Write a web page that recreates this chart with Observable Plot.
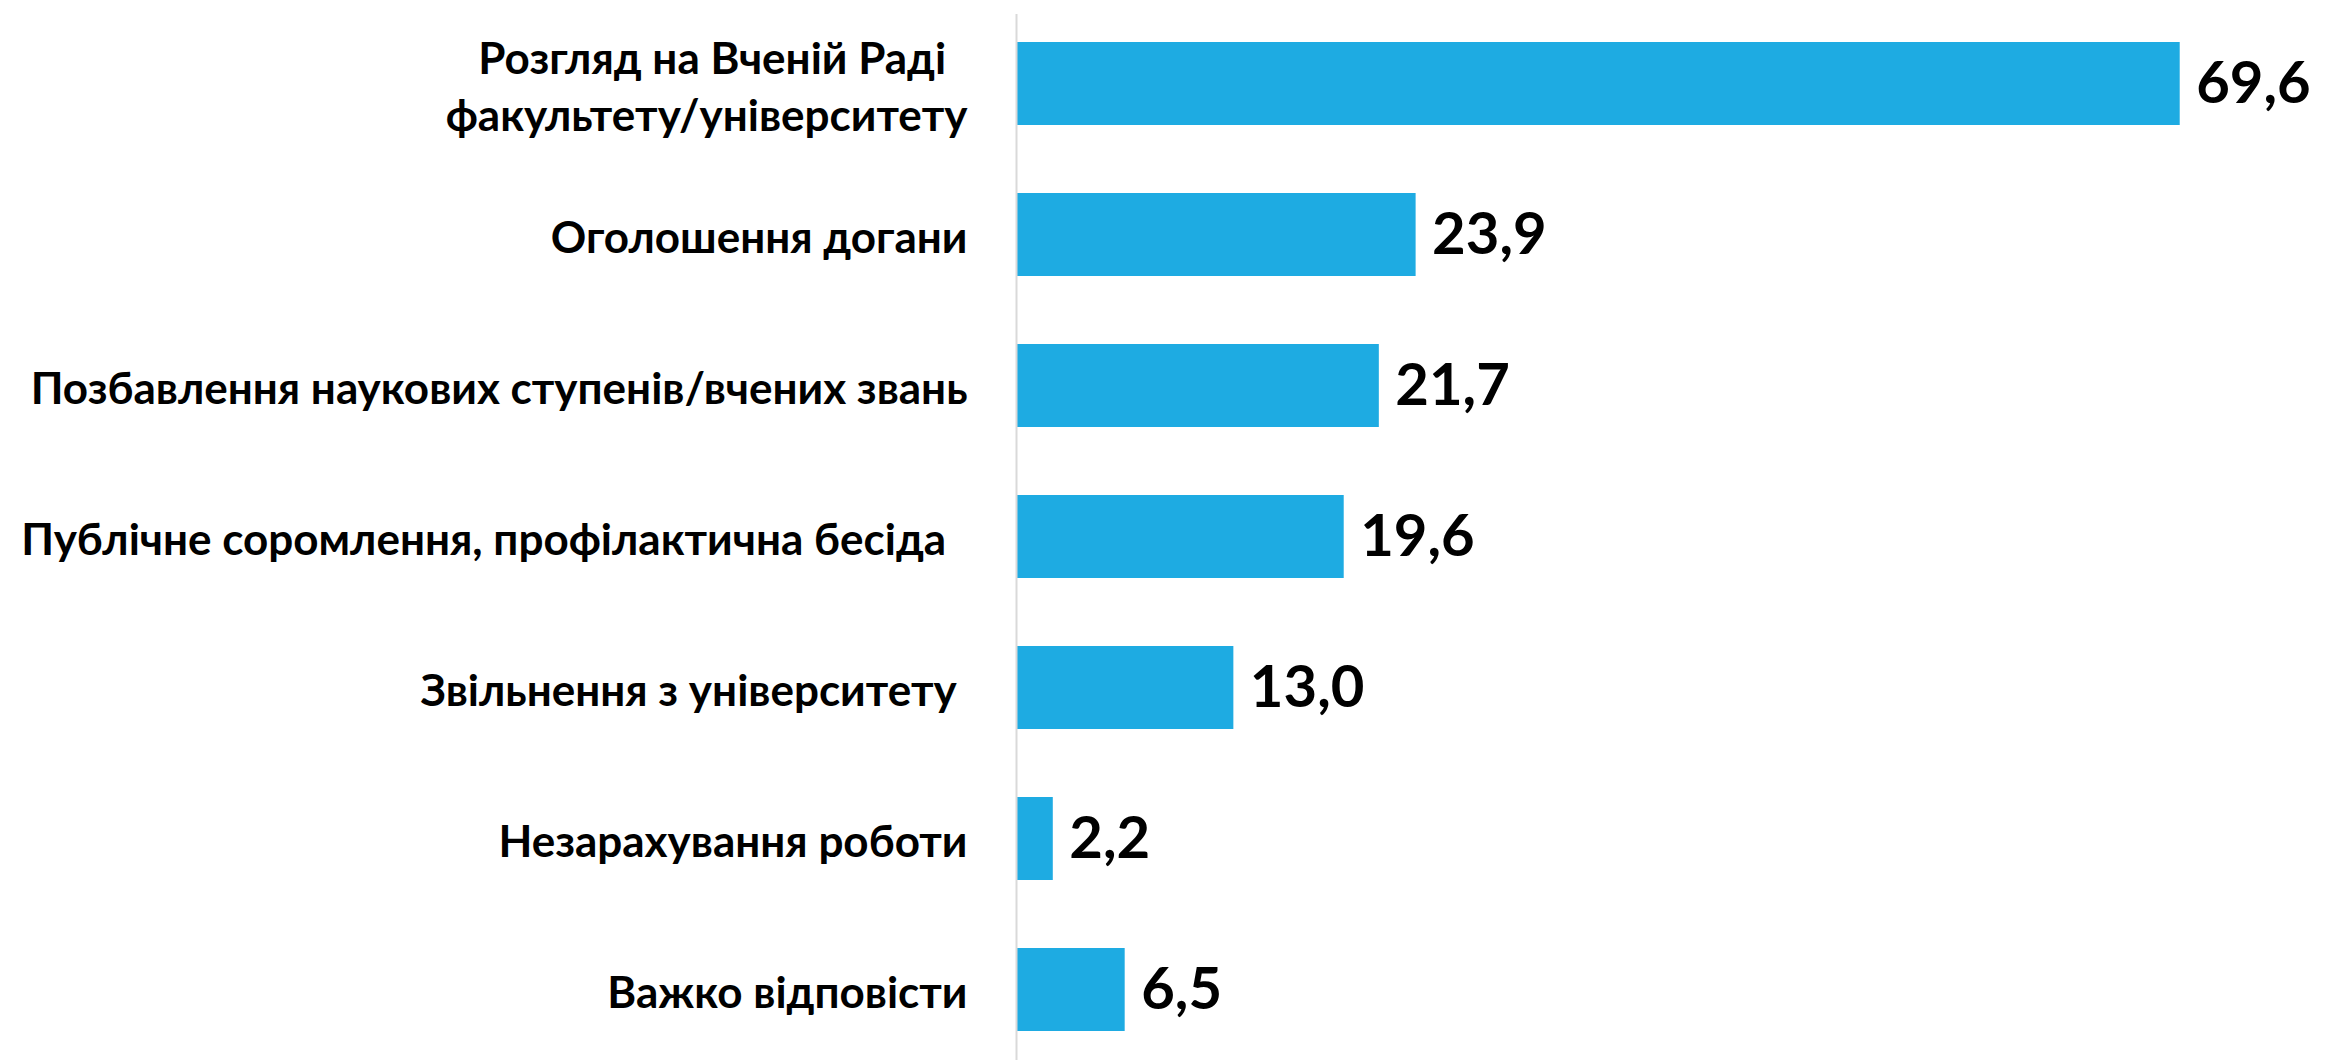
<!DOCTYPE html>
<html>
<head>
<meta charset="utf-8">
<script src="https://cdn.jsdelivr.net/npm/d3@7"></script>
<script src="https://cdn.jsdelivr.net/npm/@observablehq/plot@0.6"></script>
<style>
  html, body { margin: 0; padding: 0; background: #fff; }
  #chart svg { display: block; }
</style>
</head>
<body>
<div id="chart"></div>
<script>
const categories = [
  "Розгляд на Вченій Раді\u00A0\u00A0\nфакультету/університету",
  "Оголошення догани",
  "Позбавлення наукових ступенів/вчених звань",
  "Публічне соромлення, профілактична бесіда\u00A0\u00A0",
  "Звільнення з університету\u00A0",
  "Незарахування роботи",
  "Важко відповісти"
];
const values = [69.6, 23.9, 21.7, 19.6, 13.0, 2.2, 6.5];

const data = categories.map((c, i) => ({label: c, value: values[i]}));
const fmt = v => d3.format(".1f")(v).replace(".", ",");

const chart = Plot.plot({
  width: 2333,
  height: 1062,
  marginLeft: 1016,
  marginRight: 63,
  marginTop: 14,
  marginBottom: 2,
  style: {background: "#fff", fontFamily: "Lato, 'Open Sans', sans-serif"},
  x: {domain: [0, 75], axis: null},
  y: {domain: categories, padding: 0.45, paddingOuter: 0.18, axis: null},
  marks: [
    Plot.barX(data, {y: "label", x: "value", fill: "#1EABE2"}),
    Plot.ruleX([0], {stroke: "#d9d9d9", strokeWidth: 2}),
    Plot.text(data, {
      y: "label", x: "value", text: d => fmt(d.value),
      textAnchor: "start", dx: 16, fontSize: 58, fontWeight: "bold", fill: "#000"
    }),
    Plot.text(data, {
      y: "label", frameAnchor: "left", text: "label",
      textAnchor: "end", dx: -49, fontSize: 44, fontWeight: "bold", fill: "#000",
      lineHeight: 1.3
    })
  ]
});
document.getElementById("chart").appendChild(chart);
</script>
</body>
</html>
